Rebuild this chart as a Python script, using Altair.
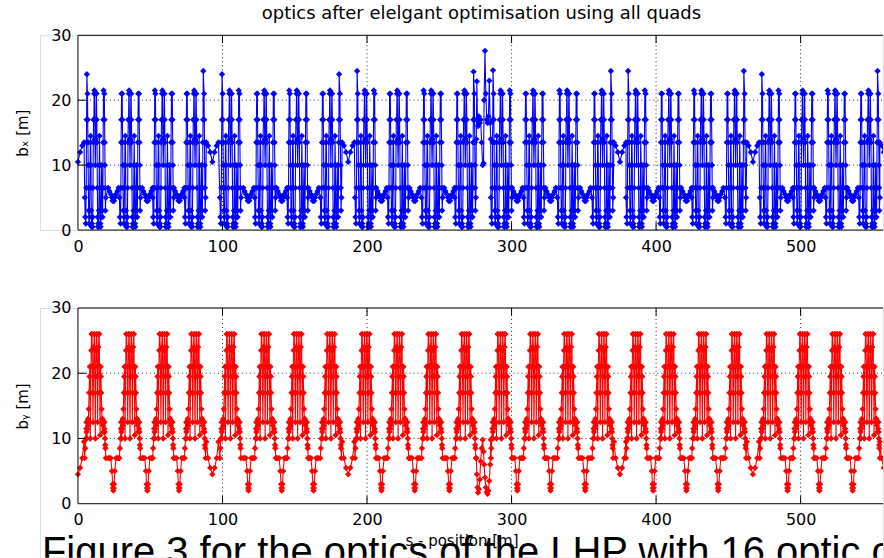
import altair as alt
import pandas as pd

# ---------------- values ----------------
S_MAX = 557.0          # right edge of the visible window, m
X0 = -26.3             # plot area starts left of s = 0 so the caption can live in it
x_ticks = [0, 100, 200, 300, 400, 500]
y_ticks = [0, 10, 20, 30]

# centres of the beta-y maxima (one per cell), with the heights of the
# first / last tall beta-x spike of each cell
peak_centres = [12.0, 36.0, 59.0, 81.0, 105.5, 129.5, 152.0, 175.0, 199.0, 221.5, 245.0, 268.0,
                293.0, 315.5, 339.0, 363.0, 386.5, 409.5, 432.0, 455.0, 479.0, 502.0, 524.5, 547.5]
peak_top_left = [24.0, 21.0, 21.5, 21.0, 24.0, 21.0, 21.5, 21.0, 24.5, 21.0, 21.5, 21.0,
                 24.6, 21.0, 21.5, 21.0, 24.5, 21.0, 21.5, 21.0, 24.0, 21.0, 21.5, 21.0]
peak_top_right = [21.5, 21.0, 21.0, 24.5, 21.5, 21.0, 21.0, 24.0, 21.5, 21.0, 21.0, 24.4,
                  21.5, 21.0, 21.0, 24.5, 21.5, 21.0, 21.0, 24.5, 21.5, 21.0, 21.0, 24.5]
# beta-y minima between cells and the shallow dips between the sections
valley_centres = [24.5, 48.0, 70.0, 118.0, 141.0, 163.0, 210.0, 233.0, 257.0,
                  304.0, 327.0, 351.0, 398.0, 421.0, 443.0, 491.0, 513.0, 536.0]
dip_centres = [0.0, 93.0, 187.0, 375.0, 467.0, 559.0]

# one cell around its beta-y maximum (offset from centre, beta-x, beta-y);
# None marks the tall first / last beta-x spike of the cell
peak_ds = [-7.3, -7.0, -6.6, -6.3, -6.15, -6.0, -5.85, -5.4, -5.25, -5.1, -4.95, -4.8, -4.6, -4.3,
           -4.0, -3.8, -3.6, -3.45, -3.2, -3.0, -2.8, -2.6, -2.3, -2.0, -1.8, -1.6, -1.4, -1.2,
           -1.0, -0.8, -0.6, -0.3, 0.0, 0.3, 0.6, 0.8, 1.0, 1.2, 1.4, 1.6, 1.8, 2.0, 2.2, 2.45,
           2.7, 2.9, 3.1, 3.3, 3.5, 3.7, 3.9, 4.15, 4.4, 4.6, 4.8, 5.0, 5.25, 5.4, 5.55, 5.7,
           6.25, 6.4, 6.55, 6.7, 6.85, 7.0, 7.3]
peak_bx = [5.0, 2.0, 1.0, 6.5, 13.5, 17.0, None, 21.0, 17.0, 13.5, 10.0, 6.5, 3.0, 1.0,
           2.0, 6.5, 10.0, 13.5, 14.5, 10.0, 3.0, 0.5, 1.0, 0.5, 2.0, 6.5, 13.5, 17.0,
           17.0, 21.0, 21.5, 14.0, 10.0, 14.0, 21.0, 21.0, 17.0, 13.5, 6.5, 2.0, 0.5, 1.0, 0.5, 3.0,
           10.0, 14.5, 10.0, 3.0, 1.0, 0.5, 2.0, 6.5, 10.0, 6.5, 3.0, 2.0, 6.5, 13.5, 17.0, None,
           21.0, 17.0, 13.5, 10.0, 6.5, 3.0, 5.0]
peak_by = [7.0, 8.5, 10.0, 11.5, 12.5, 11.0, 10.0, 11.5, 12.5, 13.0, 12.0, 12.5, 14.5, 17.0,
           19.5, 21.0, 17.0, 10.0, 17.0, 21.0, 23.5, 26.0, 26.0, 21.0, 17.0, 12.5, 17.0, 21.0,
           24.0, 26.0, 26.0, 21.0, 10.0, 19.5, 23.5, 26.0, 26.0, 23.5, 19.5, 12.5, 17.0, 21.0, 24.0, 26.0,
           26.0, 21.0, 17.0, 10.5, 17.0, 21.0, 19.5, 17.0, 14.5, 13.0, 12.5, 13.0, 12.0, 12.5, 11.0, 12.5,
           11.5, 12.5, 11.0, 10.0, 9.0, 8.5, 7.0]

# around a beta-y minimum between two cells
valley_ds = [-3.6, -2.8, -1.8, -1.0, -0.5, -0.25, 0.0, 0.25, 0.5, 1.0, 1.8, 2.8, 3.6]
valley_bx = [6.5, 6.0, 5.5, 5.0, 4.5, 5.0, 4.5, 5.0, 4.5, 5.0, 5.5, 6.0, 6.5]
valley_by = [7.0, 7.0, 7.0, 5.0, 3.0, 2.4, 2.0, 2.4, 3.0, 5.0, 7.0, 7.0, 7.0]

# around a section boundary
dip_ds = [-4.2, -3.0, -1.5, 0.0, 1.5, 3.0, 4.2]
dip_bx = [13.5, 13.0, 12.0, 10.5, 12.0, 13.0, 13.5]
dip_by = [9.5, 7.0, 5.5, 4.5, 5.5, 7.0, 9.5]

# insertion region near s = 281 m
ir_s = [275.6, 276.0, 276.4, 276.8, 277.4, 278.0, 278.6, 279.3, 280.0, 280.6,
        281.0, 281.6, 282.2, 282.8, 283.4, 284.0, 284.6, 285.2, 285.6]
ir_bx = [14.0, 22.9, 17.0, 16.0, 17.5, 16.5, 17.0, 13.5, 10.0, 10.3,
         20.0, 27.6, 21.0, 17.0, 16.5, 17.5, 23.0, 16.5, 14.0]
ir_by = [7.0, 4.5, 2.5, 1.7, 2.2, 3.7, 6.5, 8.5, 9.8, 8.0,
         6.0, 4.0, 2.5, 1.8, 1.5, 2.0, 3.5, 6.0, 9.8]

title_text = "optics after elelgant optimisation using all quads"
caption_text = "Figure 3 for the optics of the LHP with 16 optic cells"

# ---------------- tables ----------------
rows = []
for c, tl, tr in zip(peak_centres, peak_top_left, peak_top_right):
    tops = iter([tl, tr])
    for d, bx, by in zip(peak_ds, peak_bx, peak_by):
        if bx is None:
            bx = next(tops)
        rows.append((c + d, bx, by))
for v in valley_centres:
    for d, bx, by in zip(valley_ds, valley_bx, valley_by):
        rows.append((v + d, bx, by))
for v in dip_centres:
    for d, bx, by in zip(dip_ds, dip_bx, dip_by):
        rows.append((v + d, bx, by))
for s, bx, by in zip(ir_s, ir_bx, ir_by):
    rows.append((s, bx, by))

df = pd.DataFrame(rows, columns=["s", "bx", "by"]).sort_values("s").reset_index(drop=True)
df = df[(df["s"] >= 0) & (df["s"] <= 562)]

# box, inner tick marks and dotted grid, in data units
frame_rows = [(0.0, S_MAX, 30.0, 30.0), (0.0, S_MAX, 0.0, 0.0), (0.0, 0.0, 0.0, 30.0)]
for t in x_ticks[1:]:
    frame_rows.append((t, t, 30.0, 28.8))
    frame_rows.append((t, t, 0.0, 1.2))
for v in y_ticks[1:-1]:
    frame_rows.append((0.0, 5.5, v, v))
frame_df = pd.DataFrame(frame_rows, columns=["x0", "x1", "y0", "y1"])

grid_rows = [(t, t, 0.0, 30.0) for t in x_ticks[1:]] + [(0.0, S_MAX, v, v) for v in y_ticks[1:-1]]
grid_df = pd.DataFrame(grid_rows, columns=["x0", "x1", "y0", "y1"])

FONT = "DejaVu Sans"


def panel(col, color, ytitle, height, ymin, xoff, xtitle=None, title_y=None, caption=None):
    xs = alt.Scale(domain=[X0, S_MAX], nice=False, zero=False)
    ys = alt.Scale(domain=[ymin, 30], nice=False, zero=False)
    xkw = dict(values=x_ticks, grid=False, ticks=False, domain=False,
               labelFont=FONT, labelFontSize=16, labelColor="black", labelPadding=8,
               labelFlush=False, offset=xoff)
    if xtitle:
        xkw.update(title=xtitle, titleFont=FONT, titleFontSize=15, titleFontWeight="normal",
                   titleColor="black", titlePadding=6)
    else:
        xkw.update(title=None)
    ykw = dict(values=y_ticks, grid=False, ticks=False, domain=False,
               labelFont=FONT, labelFontSize=16, labelColor="black", labelPadding=7,
               labelFlush=False, offset=X0 * 844 / (S_MAX - X0),
               title=ytitle, titleFont=FONT, titleFontSize=15, titleFontWeight="normal",
               titleColor="black", titlePadding=20)
    if title_y is not None:
        ykw.update(titleY=title_y)
    xaxis = alt.Axis(**xkw)
    yaxis = alt.Axis(**ykw)

    def enc(ch, x="x0:Q", y="y0:Q"):
        return ch.encode(x=alt.X(x, scale=xs, axis=xaxis), y=alt.Y(y, scale=ys, axis=yaxis))

    grid = enc(alt.Chart(grid_df).mark_rule(color="black", strokeWidth=1, strokeDash=[1, 3],
                                             opacity=0.85)).encode(x2="x1:Q", y2="y1:Q")
    line = enc(alt.Chart(df).mark_line(color=color, strokeWidth=1.1, clip=True), "s:Q", f"{col}:Q")
    pts = enc(alt.Chart(df).mark_point(shape="diamond", filled=True, size=40, color=color,
                                       opacity=1, clip=True), "s:Q", f"{col}:Q")
    frame = enc(alt.Chart(frame_df).mark_rule(color="black", strokeWidth=1)).encode(
        x2="x1:Q", y2="y1:Q")
    layers = [grid, line, pts, frame]
    if caption:
        cap = alt.Chart(pd.DataFrame({"t": [caption]})).mark_text(
            align="left", baseline="alphabetic", font="Liberation Sans", fontSize=40,
            color="black", clip=True).encode(x=alt.value(2), y=alt.value(height + 7), text="t:N")
        layers.append(cap)
    return alt.layer(*layers).properties(width=844, height=height)


top = panel("bx", "#0000ff", "bₓ [m]", 195, 0.0, 0).properties(
    title=alt.TitleParams(title_text, font=FONT, fontSize=18, fontWeight="normal", color="black",
                          offset=4, anchor="middle", dx=20)
)
bottom = panel("by", "#ff0000", "bᵧ [m]", 250, -8.27, -54, xtitle="s - position [m]",
               title_y=98, caption=caption_text)

chart = alt.vconcat(top, bottom, spacing=78, bounds="flush").properties(
    padding={"left": 15, "top": 4, "right": 0, "bottom": 0},
).configure_view(strokeWidth=0).configure(background="white")

chart.save("out.html", embed_options={"renderer": "svg", "actions": False})
